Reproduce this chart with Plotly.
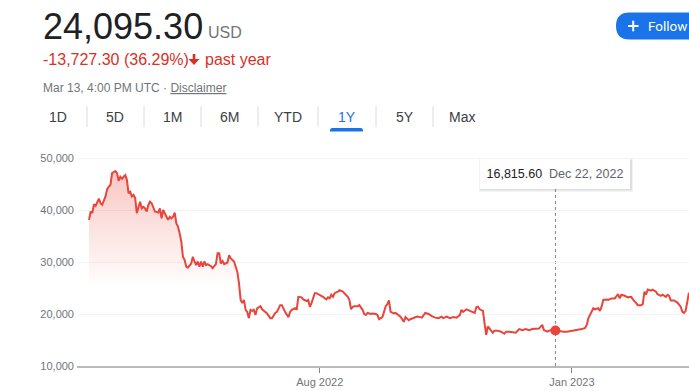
import plotly.graph_objects as go

# ---------------- data ----------------
dates = [
    "2022-03-14", "2022-03-15", "2022-03-16", "2022-03-17", "2022-03-18", "2022-03-20", "2022-03-21", "2022-03-22",
    "2022-03-24", "2022-03-25", "2022-03-26", "2022-03-27", "2022-03-28", "2022-03-30", "2022-03-31", "2022-04-01",
    "2022-04-02", "2022-04-03", "2022-04-04", "2022-04-05", "2022-04-06", "2022-04-07", "2022-04-08", "2022-04-09",
    "2022-04-10", "2022-04-11", "2022-04-12", "2022-04-13", "2022-04-14", "2022-04-15", "2022-04-16", "2022-04-17",
    "2022-04-18", "2022-04-19", "2022-04-20", "2022-04-21", "2022-04-22", "2022-04-23", "2022-04-25", "2022-04-26",
    "2022-04-27", "2022-04-28", "2022-04-30", "2022-05-01", "2022-05-02", "2022-05-03", "2022-05-04", "2022-05-05",
    "2022-05-06", "2022-05-07", "2022-05-08", "2022-05-09", "2022-05-10", "2022-05-11", "2022-05-12", "2022-05-13",
    "2022-05-15", "2022-05-16", "2022-05-17", "2022-05-18", "2022-05-19", "2022-05-20", "2022-05-21", "2022-05-22",
    "2022-05-23", "2022-05-24", "2022-05-25", "2022-05-26", "2022-05-27", "2022-05-28", "2022-05-30", "2022-05-31",
    "2022-06-01", "2022-06-02", "2022-06-03", "2022-06-04", "2022-06-06", "2022-06-07", "2022-06-08", "2022-06-10",
    "2022-06-11", "2022-06-12", "2022-06-13", "2022-06-14", "2022-06-15", "2022-06-16", "2022-06-17", "2022-06-18",
    "2022-06-19", "2022-06-20", "2022-06-21", "2022-06-22", "2022-06-23", "2022-06-24", "2022-06-26", "2022-06-27",
    "2022-06-29", "2022-06-30", "2022-07-02", "2022-07-03", "2022-07-05", "2022-07-06", "2022-07-08", "2022-07-09",
    "2022-07-11", "2022-07-13", "2022-07-14", "2022-07-15", "2022-07-17", "2022-07-18", "2022-07-19", "2022-07-21",
    "2022-07-22", "2022-07-24", "2022-07-25", "2022-07-26", "2022-07-27", "2022-07-29", "2022-07-30", "2022-08-01",
    "2022-08-03", "2022-08-05", "2022-08-06", "2022-08-07", "2022-08-08", "2022-08-09", "2022-08-10", "2022-08-12",
    "2022-08-13", "2022-08-15", "2022-08-16", "2022-08-18", "2022-08-19", "2022-08-20", "2022-08-21", "2022-08-22",
    "2022-08-24", "2022-08-25", "2022-08-27", "2022-08-28", "2022-08-29", "2022-08-30", "2022-09-01", "2022-09-02",
    "2022-09-04", "2022-09-05", "2022-09-06", "2022-09-08", "2022-09-09", "2022-09-10", "2022-09-11", "2022-09-12",
    "2022-09-13", "2022-09-15", "2022-09-16", "2022-09-18", "2022-09-19", "2022-09-20", "2022-09-21", "2022-09-22",
    "2022-09-24", "2022-09-25", "2022-09-27", "2022-09-29", "2022-10-01", "2022-10-02", "2022-10-04", "2022-10-06",
    "2022-10-08", "2022-10-10", "2022-10-12", "2022-10-14", "2022-10-15", "2022-10-17", "2022-10-19", "2022-10-21",
    "2022-10-23", "2022-10-25", "2022-10-26", "2022-10-27", "2022-10-29", "2022-10-31", "2022-11-02", "2022-11-03",
    "2022-11-04", "2022-11-05", "2022-11-06", "2022-11-08", "2022-11-09", "2022-11-10", "2022-11-11", "2022-11-12",
    "2022-11-13", "2022-11-14", "2022-11-15", "2022-11-17", "2022-11-19", "2022-11-21", "2022-11-22", "2022-11-24",
    "2022-11-26", "2022-11-28", "2022-11-30", "2022-12-02", "2022-12-04", "2022-12-06", "2022-12-08", "2022-12-10",
    "2022-12-12", "2022-12-14", "2022-12-15", "2022-12-17", "2022-12-18", "2022-12-20", "2022-12-22", "2022-12-25",
    "2022-12-27", "2022-12-29", "2022-12-31", "2023-01-01", "2023-01-03", "2023-01-05", "2023-01-07", "2023-01-09",
    "2023-01-10", "2023-01-11", "2023-01-13", "2023-01-14", "2023-01-15", "2023-01-17", "2023-01-18", "2023-01-19",
    "2023-01-20", "2023-01-22", "2023-01-23", "2023-01-25", "2023-01-27", "2023-01-29", "2023-01-30", "2023-01-31",
    "2023-02-02", "2023-02-04", "2023-02-06", "2023-02-07", "2023-02-09", "2023-02-10", "2023-02-12", "2023-02-13",
    "2023-02-14", "2023-02-15", "2023-02-16", "2023-02-18", "2023-02-19", "2023-02-21", "2023-02-22", "2023-02-24",
    "2023-02-25", "2023-02-27", "2023-02-28", "2023-03-01", "2023-03-02", "2023-03-04", "2023-03-06", "2023-03-08",
    "2023-03-09", "2023-03-10", "2023-03-11", "2023-03-12", "2023-03-13",
]
prices = [
    38100, 39700, 39400, 41100, 40800, 42200, 41300, 41000,
    42600, 44000, 44500, 44800, 47100, 47500, 47100, 45600,
    46400, 46000, 46400, 46700, 45800, 43200, 43500, 42600,
    42900, 42300, 39400, 40600, 41600, 40300, 40600, 40300,
    39700, 41000, 41600, 41300, 40300, 39700, 39500, 40300,
    38400, 40000, 38700, 38100, 38700, 38400, 38700, 39500,
    37400, 36800, 35500, 33900, 31000, 30400, 29100, 28900,
    29700, 31000, 30100, 29400, 30100, 29100, 30100, 29100,
    30100, 29400, 29600, 29400, 29200, 28800, 29600, 31700,
    31700, 29700, 30200, 29600, 29900, 31300, 30700, 30100,
    29100, 28100, 25900, 22700, 22100, 22700, 20800, 20400,
    19200, 20800, 20600, 20800, 19800, 21100, 21500, 20900,
    20400, 20100, 19200, 19200, 20200, 20400, 21700, 21700,
    20400, 19400, 20400, 20800, 21100, 20800, 23300, 23200,
    22800, 22500, 22700, 21400, 22100, 24000, 24000, 23700,
    23300, 22800, 23200, 23000, 23700, 23300, 24000, 24300,
    24600, 24300, 24000, 23300, 22700, 20900, 21400, 21500,
    21500, 21700, 20800, 20000, 19800, 20200, 20000, 20100,
    20000, 19800, 19000, 19400, 20400, 21500, 21900, 22600,
    20400, 20100, 20200, 19800, 19500, 19000, 18500, 19400,
    18800, 19000, 19200, 19500, 19400, 19300, 20200, 20000,
    19600, 19300, 19200, 19500, 19200, 19500, 19200, 19400,
    19300, 19800, 20800, 20400, 20900, 20600, 20400, 20200,
    21300, 21400, 20900, 20600, 18200, 16000, 17600, 17100,
    16800, 16400, 16800, 16800, 16600, 16200, 16600, 16600,
    16500, 16400, 17100, 16900, 17100, 16900, 17100, 17200,
    17200, 17900, 16900, 16600, 16800, 16900, 16815.60, 16600,
    16600, 16600, 16700, 16700, 16800, 16900, 17100, 17300,
    17900, 19200, 20400, 21100, 20900, 21100, 20600, 21400,
    22700, 22800, 22700, 23000, 23000, 23800, 23000, 23700,
    23500, 23200, 23300, 22800, 22100, 21700, 21700, 21900,
    24300, 23700, 24700, 24500, 24700, 24300, 23800, 23500,
    23700, 23300, 23700, 23500, 22600, 22600, 22200, 21400,
    20400, 20200, 20600, 22100, 24095.30,
]

current_price = "24,095.30"
currency = "USD"
change_text = "-13,727.30 (36.29%)"
period_text = "past year"
timestamp_text = "Mar 13, 4:00 PM UTC · "
disclaimer_text = "Disclaimer"
follow_text = "Follow"
tabs = ["1D", "5D", "1M", "6M", "YTD", "1Y", "5Y", "Max"]
active_tab = "1Y"

hover_date = "2022-12-22"
hover_value = 16815.60
hover_label = "16,815.60"
hover_date_label = "Dec 22, 2022"

x_tick_vals = ["2022-08-01", "2023-01-01"]
x_tick_text = ["Aug 2022", "Jan 2023"]
y_tick_vals = [10000, 20000, 30000, 40000, 50000]
y_tick_text = ["10,000", "20,000", "30,000", "40,000", "50,000"]

# ---------------- layout helpers ----------------
W, H = 689, 391
L, R, T, B = 77, 0, 150, 25
PW, PH = W - L - R, H - T - B


def px(x):
    return (x - L) / PW


def py(y):
    return (H - B - y) / PH


RED = "#e8453c"
FONT = "Liberation Sans, Arial, sans-serif"
GREY = "#70757a"

fig = go.Figure()

fig.add_trace(go.Scatter(
    x=dates, y=prices, mode="lines",
    line=dict(color=RED, width=2),
    fill="tozeroy",
    fillgradient=dict(
        type="vertical",
        colorscale=[[0, "rgba(234,67,53,0)"], [1, "rgba(234,67,53,0.30)"]],
        start=25000, stop=47500,
    ),
    hoverinfo="skip", showlegend=False,
))

fig.add_trace(go.Scatter(
    x=[hover_date], y=[hover_value], mode="markers",
    marker=dict(color=RED, size=10),
    hoverinfo="skip", showlegend=False,
))

shapes = []
annotations = []

# hover guide line
shapes.append(dict(type="line", xref="x", yref="paper", x0=hover_date, x1=hover_date,
                   y0=0, y1=py(188), line=dict(color="#80868b", width=1, dash="dot"), layer="below"))

# tooltip soft shadow
shapes.append(dict(type="rect", xref="paper", yref="paper", x0=px(479), x1=px(633), y0=py(192), y1=py(159),
                   fillcolor="rgba(60,64,67,0.06)", line=dict(width=0), layer="above"))
shapes.append(dict(type="rect", xref="paper", yref="paper", x0=px(480), x1=px(632), y0=py(190.5), y1=py(159.5),
                   fillcolor="rgba(60,64,67,0.12)", line=dict(width=0), layer="above"))

annotations.append(dict(
    xref="x", yref="paper", x=hover_date, y=py(174), xanchor="center", yanchor="middle",
    showarrow=False, width=148, height=28, bgcolor="white", borderwidth=0,
    text=f"<span style='color:#202124'>{hover_label}</span>&nbsp;&nbsp;<span style='color:#5f6368'>{hover_date_label}</span>",
    font=dict(family=FONT, size=12.5),
))

# header texts
annotations += [
    dict(x=px(41), y=py(26.5), text=current_price, font=dict(family=FONT, size=36, color="#202124")),
    dict(x=px(206), y=py(32.5), text=currency, font=dict(family=FONT, size=16, color=GREY)),
    dict(x=px(41), y=py(59.5), text=change_text, font=dict(family=FONT, size=16, color="#d93025")),
    dict(x=px(203), y=py(59.5), text=period_text, font=dict(family=FONT, size=16, color="#d93025")),
    dict(x=px(41), y=py(87.5), text=timestamp_text + f"<u>{disclaimer_text}</u>",
         font=dict(family=FONT, size=12, color=GREY)),
]
for a in annotations[-5:]:
    a.update(xref="paper", yref="paper", xanchor="left", yanchor="middle", showarrow=False)

# down arrow icon
ax, ay = 194, 54
shapes.append(dict(type="path", xref="paper", yref="paper",
                   path=(f"M {px(ax-1.3)} {py(ay)} L {px(ax+1.3)} {py(ay)} L {px(ax+1.3)} {py(ay+5)} "
                         f"L {px(ax+5.5)} {py(ay+5)} L {px(ax)} {py(ay+11)} L {px(ax-5.5)} {py(ay+5)} "
                         f"L {px(ax-1.3)} {py(ay+5)} Z"),
                   fillcolor="#d93025", line=dict(width=0)))

# follow button
bx0, bx1, by0, by1 = 616, 703, 12.5, 39.5
r = (by1 - by0) / 2
shapes.append(dict(type="path", xref="paper", yref="paper",
                   path=(f"M {px(bx0 + r)} {py(by0)} L {px(bx1 - r)} {py(by0)} "
                         f"L {px(bx1 - r)} {py(by1)} L {px(bx0 + r)} {py(by1)} "
                         f"Q {px(bx0)} {py(by1)} {px(bx0)} {py((by0+by1)/2)} "
                         f"Q {px(bx0)} {py(by0)} {px(bx0 + r)} {py(by0)} Z"),
                   fillcolor="#1a73e8", line=dict(width=0)))
shapes.append(dict(type="line", xref="paper", yref="paper", x0=px(628), x1=px(638.5), y0=py(26), y1=py(26),
                   line=dict(color="white", width=2)))
shapes.append(dict(type="line", xref="paper", yref="paper", x0=px(633.2), x1=px(633.2), y0=py(20.7), y1=py(31.3),
                   line=dict(color="white", width=2)))
annotations.append(dict(xref="paper", yref="paper", x=px(646), y=py(26), xanchor="left", yanchor="middle",
                        showarrow=False, text=follow_text,
                        font=dict(family="Roboto, " + FONT, size=13.5, color="white")))

# tabs
tab_centers = [58, 115, 172, 229, 288, 347, 405, 462]
sep_x = [87, 144, 201, 258, 318, 376, 433]
for name, cx in zip(tabs, tab_centers):
    annotations.append(dict(xref="paper", yref="paper", x=px(cx), y=py(117), xanchor="center", yanchor="middle",
                            showarrow=False, text=name,
                            font=dict(family=FONT, size=14,
                                      color="#1a73e8" if name == active_tab else "#3c4043")))
for sx in sep_x:
    shapes.append(dict(type="line", xref="paper", yref="paper", x0=px(sx), x1=px(sx), y0=py(106), y1=py(127),
                       line=dict(color="#dadce0", width=1)))
ux0, ux1, uy0, uy1 = 330, 363, 128, 131.5
shapes.append(dict(type="path", xref="paper", yref="paper",
                   path=(f"M {px(ux0)} {py(uy1)} L {px(ux0)} {py(uy0+2)} Q {px(ux0)} {py(uy0)} {px(ux0+2.5)} {py(uy0)} "
                         f"L {px(ux1-2.5)} {py(uy0)} Q {px(ux1)} {py(uy0)} {px(ux1)} {py(uy0+2)} L {px(ux1)} {py(uy1)} Z"),
                   fillcolor="#1a73e8", line=dict(width=0)))

fig.update_layout(
    width=W, height=H, autosize=False,
    margin=dict(l=L, r=R, t=T, b=B, pad=0),
    paper_bgcolor="white", plot_bgcolor="white",
    shapes=shapes, annotations=annotations,
    xaxis=dict(
        type="date", range=["2022-03-06 17:00", "2023-03-13 01:00"],
        tickvals=x_tick_vals, ticktext=x_tick_text,
        showgrid=False, zeroline=False,
        showline=True, linecolor="#bababa", linewidth=2,
        ticks="outside", ticklen=5, tickcolor="#80868b", tickwidth=1,
        tickfont=dict(family=FONT, size=11, color=GREY),
        fixedrange=True,
    ),
    yaxis=dict(
        range=[10000, 10000 + PH / 52 * 10000],
        tickvals=y_tick_vals, ticktext=y_tick_text,
        showgrid=True, gridcolor="#f1f3f4", gridwidth=1,
        zeroline=False, showline=False, ticks="",
        tickfont=dict(family=FONT, size=11, color=GREY),
        ticklabelstandoff=2,
        fixedrange=True,
    ),
    hovermode=False,
)

fig.write_html(
    "out.html",
    config={"displayModeBar": False},
    post_script="document.body.style.margin='0';document.body.style.overflow='hidden';",
)
